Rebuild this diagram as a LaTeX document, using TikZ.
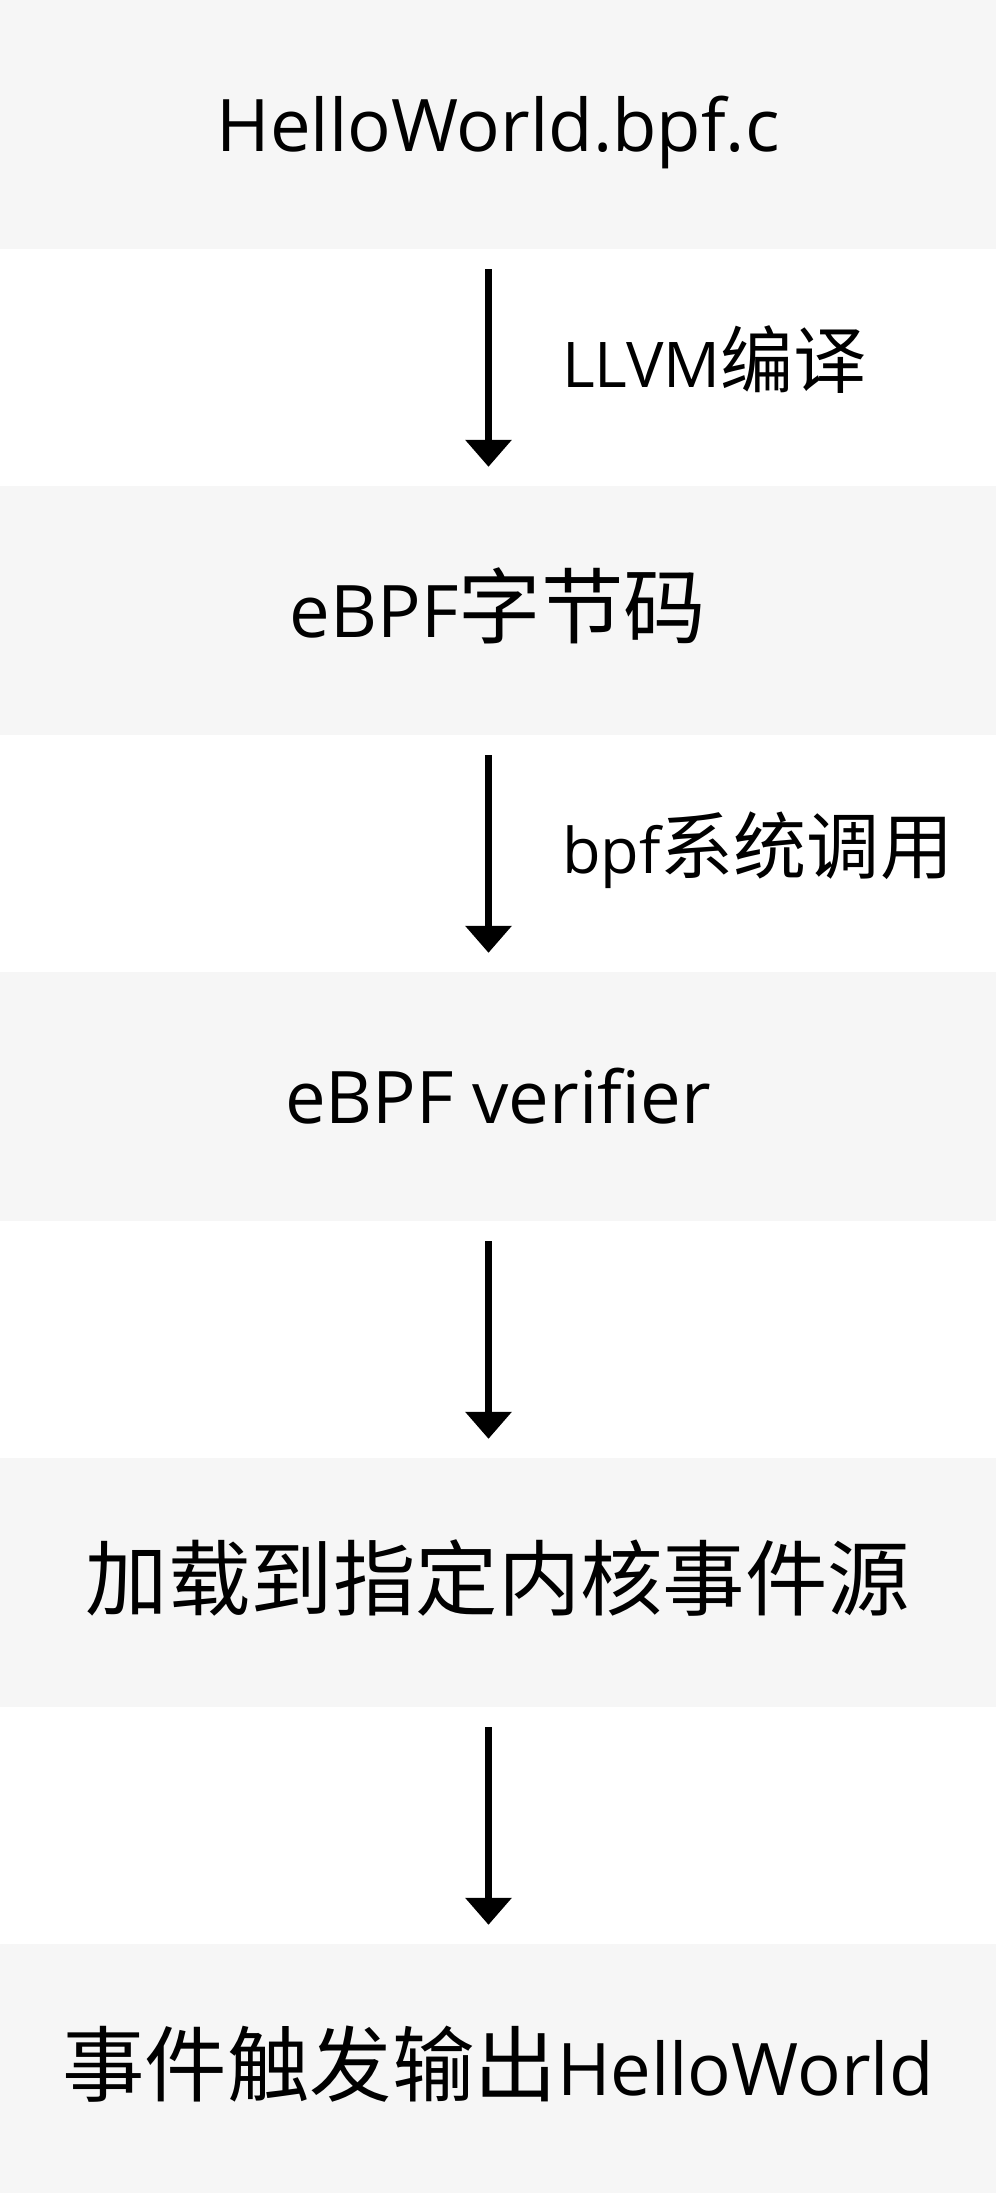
\documentclass[tikz,border=0pt]{standalone}
\usepackage{fontspec}
\setmainfont{Open Sans}
\newfontfamily\cjk{Noto Sans CJK SC}[Scale=1.137]
\newfontfamily\cjklbl{Noto Sans CJK SC}[Scale=1.16]
\usetikzlibrary{arrows.meta}
\definecolor{boxgray}{RGB}{246,246,246}
\tikzset{
  stage/.style={fill=boxgray, draw=none, minimum width=996pt, minimum height=249pt, inner sep=0pt, text height=54pt, text depth=0pt, font=\fontsize{72.5}{86}\selectfont, text=black},
  flow/.style={line width=7pt, -{Triangle[width=45pt,length=27pt]}, shorten <=20pt, shorten >=19pt},
  lbl/.style={anchor=west, inner sep=0pt, text height=39pt, text depth=0pt, font=\fontsize{63}{76}\selectfont, text=black}
}
\begin{document}
\begin{tikzpicture}[x=1pt,y=1pt]
\useasboundingbox (0,0) rectangle (996,-2193);
\node[stage] (b1) at (498,-124.5) {HelloWorld.bpf.c};
\node[stage] (b2) at (498,-610.5) {eBPF{\cjk 字节码}};
\node[stage] (b3) at (498,-1096.5) {eBPF verifier};
\node[stage] (b4) at (498,-1582.5) {{\cjk 加载到指定内核事件源}};
\node[stage] (b5) at (498,-2068.5) {{\cjk 事件触发输出}HelloWorld};
\draw[flow] ([xshift=-9.5pt]b1.south) -- ([xshift=-9.5pt]b2.north);
\draw[flow] ([xshift=-9.5pt]b2.south) -- ([xshift=-9.5pt]b3.north);
\draw[flow] ([xshift=-9.5pt]b3.south) -- ([xshift=-9.5pt]b4.north);
\draw[flow] ([xshift=-9.5pt]b4.south) -- ([xshift=-9.5pt]b5.north);
\node[lbl] (l1) at (562,-367.5) {LLVM{\cjklbl 编译}};
\node[lbl] (l2) at (562,-853.5) {bpf{\cjklbl 系统调用}};
\end{tikzpicture}
\end{document}
